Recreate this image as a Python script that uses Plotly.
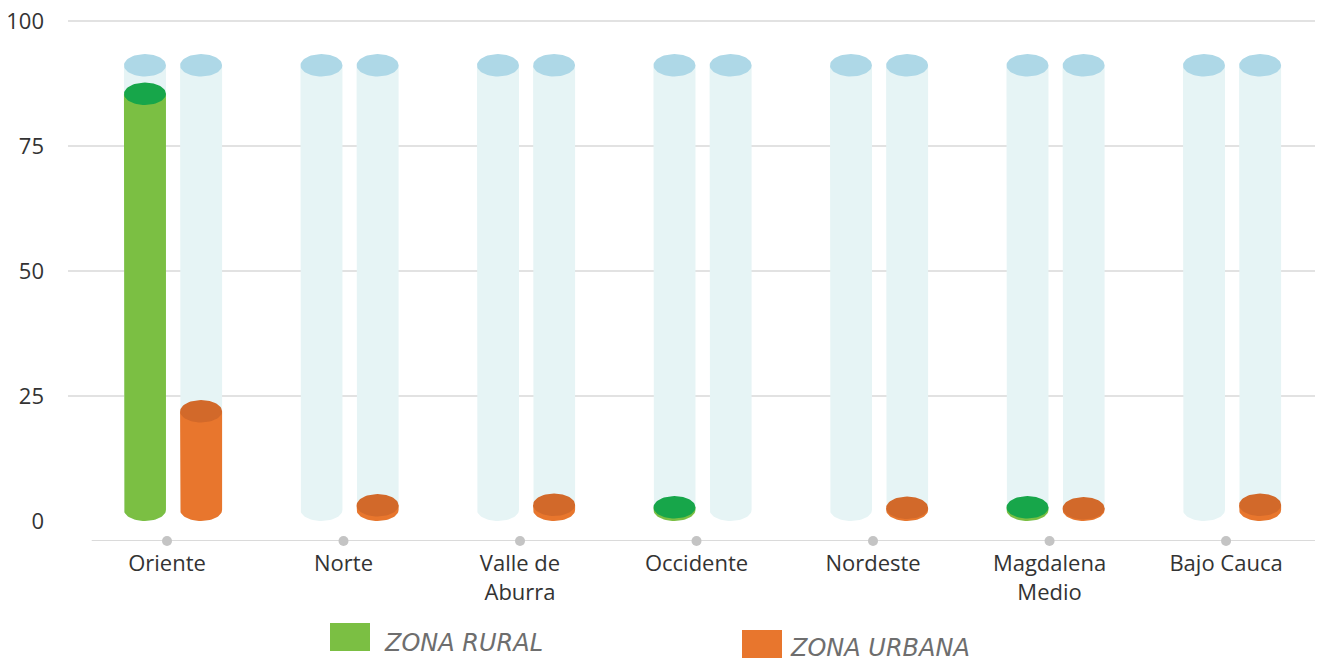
import numpy as np
import plotly.graph_objects as go

# Datos: porcentaje por subregión (altura de cada cilindro sobre su base)
SUBREGIONES = ["Oriente", "Norte", "Valle de<br>Aburra", "Occidente",
               "Nordeste", "Magdalena<br>Medio", "Bajo Cauca"]
ZONA_RURAL = [83.2, 0, 0, 0.5, 0, 0.5, 0]
ZONA_URBANA = [19.7, 0.9, 1.0, 0, 0.4, 0.3, 1.0]
FONDO = 88.9          # altura del cilindro de fondo
Y_TICKS = [0, 25, 50, 75, 100]

# estilo de los cilindros
BASE = 2.24           # desplazamiento 3D de la base
ELIPSE_H = 2.24       # semialto de la elipse en unidades del eje y
ANCHO = 0.238         # ancho de cada cilindro (unidades de categoría)
OFFSET_RURAL = -0.244
OFFSET_URBANA = 0.074
EJE_Y = -4

C_FONDO, C_FONDO_TAPA = "#E6F4F5", "#AED8E7"
C_RURAL, C_RURAL_TAPA = "#7BBF43", "#17A64A"
C_URBANA, C_URBANA_TAPA = "#E8762D", "#D2692A"

th = np.linspace(0, 2 * np.pi, 61)
th_low = np.linspace(np.pi, 2 * np.pi, 31)


def cilindros(valores, offset):
    """Devuelve (cuerpos, tapas) como listas x/y con None entre figuras."""
    bx, by, tx, ty = [], [], [], []
    for i, v in enumerate(valores):
        if v <= 0:
            continue
        a = ANCHO / 2
        cx = i + offset + a
        top = BASE + v
        bx += [cx - a, cx - a] + list(cx + a * np.cos(th_low)) + [cx + a, cx - a, None]
        by += [top, BASE] + list(BASE + ELIPSE_H * np.sin(th_low)) + [top, top, None]
        tx += list(cx + a * np.cos(th)) + [None]
        ty += list(top + ELIPSE_H * np.sin(th)) + [None]
    return bx, by, tx, ty


fig = go.Figure()
capas = [
    ([FONDO] * len(SUBREGIONES), OFFSET_RURAL, C_FONDO, C_FONDO_TAPA),
    ([FONDO] * len(SUBREGIONES), OFFSET_URBANA, C_FONDO, C_FONDO_TAPA),
    (ZONA_RURAL, OFFSET_RURAL, C_RURAL, C_RURAL_TAPA),
    (ZONA_URBANA, OFFSET_URBANA, C_URBANA, C_URBANA_TAPA),
]
for vals, off, c_body, c_top in capas:
    bx, by, tx, ty = cilindros(vals, off)
    fig.add_trace(go.Scatter(x=bx, y=by, fill="toself", fillcolor=c_body, mode="lines",
                             line=dict(width=0, color=c_body), hoverinfo="skip",
                             showlegend=False))
    fig.add_trace(go.Scatter(x=tx, y=ty, fill="toself", fillcolor=c_top, mode="lines",
                             line=dict(width=0, color=c_top), hoverinfo="skip",
                             showlegend=False))

# puntos grises sobre el eje x
fig.add_trace(go.Scatter(x=list(range(len(SUBREGIONES))), y=[EJE_Y] * len(SUBREGIONES),
                         mode="markers", marker=dict(size=10, color="#C4C4C4"),
                         hoverinfo="skip", showlegend=False, cliponaxis=False))

fig.add_shape(type="line", xref="paper", yref="y", x0=0.019, x1=1, y0=EJE_Y, y1=EJE_Y,
              line=dict(color="#DADADA", width=2), layer="below")

# leyenda manual (posiciones en px de la referencia -> papel)
leyenda = [("ZONA RURAL", C_RURAL, 330, 623, 382, 643),
           ("ZONA URBANA", C_URBANA, 742, 630, 788, 648)]
L, W, B, H = 68, 1247, 541, 531
for txt, col, sx, sy, tx_, ty_ in leyenda:
    fig.add_shape(type="rect", xref="paper", yref="paper",
                  x0=(sx - L) / W, x1=(sx + 40 - L) / W,
                  y0=(B - sy) / H, y1=(B - sy - 28) / H,
                  fillcolor=col, line=dict(width=0))
    fig.add_annotation(text=txt, xref="paper", yref="paper", x=(tx_ - L) / W,
                       y=(B - ty_) / H, xanchor="left", yanchor="middle", showarrow=False,
                       font=dict(family="DejaVu Sans", size=24, color="#6E6E6E",
                                 style="italic", weight=200))

# la página añade 8 px de margen: el gráfico se desplaza 8 px a la izquierda/arriba
fig.update_layout(
    width=1323, height=658,
    margin=dict(l=60, r=16, t=2, b=125, autoexpand=False),
    paper_bgcolor="white", plot_bgcolor="white",
    font=dict(family="Open Sans", color="#333333"),
    xaxis=dict(range=[-0.561, 6.504], tickvals=list(range(len(SUBREGIONES))),
               ticktext=SUBREGIONES, showgrid=False, zeroline=False, showline=False,
               tickfont=dict(size=22, color="#333333"), ticks="", ticklabelstandoff=7,
               automargin=False, fixedrange=True),
    yaxis=dict(range=[-4, 102.2], tickvals=Y_TICKS, showgrid=False, zeroline=False,
               showline=False, tickfont=dict(size=22, color="#333333"), ticks="",
               ticklabelstandoff=23, ticklabeloverflow="allow", automargin=False,
               minor=dict(tickvals=Y_TICKS[1:], showgrid=True, gridcolor="#E2E2E2",
                          gridwidth=1.5, ticks=""),
               fixedrange=True),
)

fig.write_html("out.html")
